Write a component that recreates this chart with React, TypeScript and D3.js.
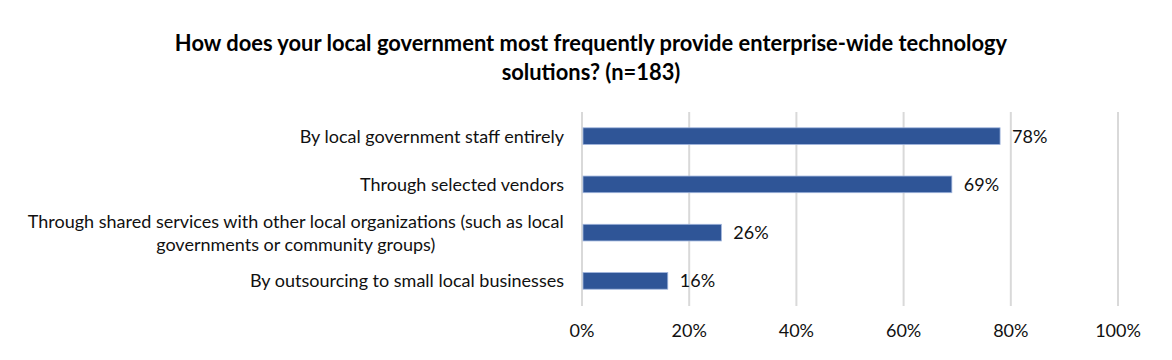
import {useMemo} from "react"
import * as d3 from "d3"

// chart data
const titleLines = [
  "How does your local government most frequently provide enterprise-wide technology",
  "solutions? (n=183)",
]
const categories = [
  "By local government staff entirely",
  "Through selected vendors",
  "Through shared services with other local organizations (such as local governments or community groups)",
  "By outsourcing to small local businesses",
]
const values = [0.78, 0.69, 0.26, 0.16]
const xTicks = [0, 0.2, 0.4, 0.6, 0.8, 1]

const FONT = "Lato, 'Liberation Sans', sans-serif"
const LABEL_SIZE = 18

// wrap a label to a max width using canvas text metrics
function wrap(text: string, maxWidth: number, font: string) {
  const ctx = document.createElement("canvas").getContext("2d")!
  ctx.font = font
  const words = text.split(" ")
  const lines: string[] = []
  let line = ""
  words.forEach((w) => {
    const test = line ? line + " " + w : w
    if (ctx.measureText(test).width > maxWidth && line) {
      lines.push(line)
      line = w
    } else {
      line = test
    }
  })
  if (line) lines.push(line)
  return {lines, width: Math.max(...lines.map((l) => ctx.measureText(l).width))}
}

export default function App() {
  const width = 1172
  const height = 360
  const margin = {top: 112, right: 54, bottom: 55, left: 582}
  const innerWidth = width - margin.left - margin.right
  const innerHeight = height - margin.top - margin.bottom

  const x = d3.scaleLinear().domain([0, 1]).range([0, innerWidth])
  const y = d3
    .scaleBand<string>()
    .domain(categories)
    .range([0, innerHeight])
    .paddingInner(0.655)
    .paddingOuter(0.3275)
  const pct = d3.format(".0%")

  const wrapped = useMemo(
    () => categories.map((c) => wrap(c, 540, `${LABEL_SIZE}px Lato`)),
    []
  )

  const labelRight = -18
  const lineHeight = 23

  return (
    <svg
      width={width}
      height={height}
      style={{position: "absolute", left: 0, top: 0, background: "#fff"}}
      fontFamily={FONT}
    >
      {/* title */}
      <g fontWeight="bold" fontSize={21.9} fill="#000" textAnchor="middle">
        {titleLines.map((t, i) => (
          <text key={i} x={591} y={51 + i * 29}>
            {t}
          </text>
        ))}
      </g>

      <g transform={`translate(${margin.left},${margin.top})`}>
        {/* gridlines */}
        {xTicks.map((t) => (
          <line
            key={t}
            x1={x(t)}
            x2={x(t)}
            y1={0}
            y2={innerHeight + 1}
            stroke="#d9d9d9"
            strokeWidth={2}
          />
        ))}

        {/* bars */}
        {categories.map((c, i) => (
          <rect
            key={c}
            x={x(0) + 1}
            y={y(c)!}
            width={x(values[i]) - x(0) - 1}
            height={y.bandwidth()}
            fill="#2f5597"
            stroke="#9fb4dc"
            strokeWidth={0.8}
          />
        ))}

        {/* value labels */}
        <g fontSize={LABEL_SIZE} fill="#111">
          {categories.map((c, i) => (
            <text
              key={c}
              x={x(values[i]) + 12}
              y={y(c)! + y.bandwidth() / 2}
              dy="0.36em"
            >
              {pct(values[i])}
            </text>
          ))}
        </g>

        {/* category labels */}
        <g fontSize={LABEL_SIZE} fill="#111">
          {categories.map((c, i) => {
            const {lines, width: w} = wrapped[i]
            const cy = y(c)! + y.bandwidth() / 2
            const multi = lines.length > 1
            const tx = multi ? labelRight - w / 2 : labelRight
            return (
              <text key={c} textAnchor={multi ? "middle" : "end"}>
                {lines.map((l, j) => (
                  <tspan
                    key={j}
                    x={tx}
                    y={cy + (j - (lines.length - 1) / 2) * lineHeight}
                    dy="0.36em"
                  >
                    {l}
                  </tspan>
                ))}
              </text>
            )
          })}
        </g>

        {/* x axis tick labels */}
        <g fontSize={LABEL_SIZE} fill="#111" textAnchor="middle">
          {xTicks.map((t) => (
            <text key={t} x={x(t)} y={innerHeight + 32}>
              {pct(t)}
            </text>
          ))}
        </g>
      </g>
    </svg>
  )
}
